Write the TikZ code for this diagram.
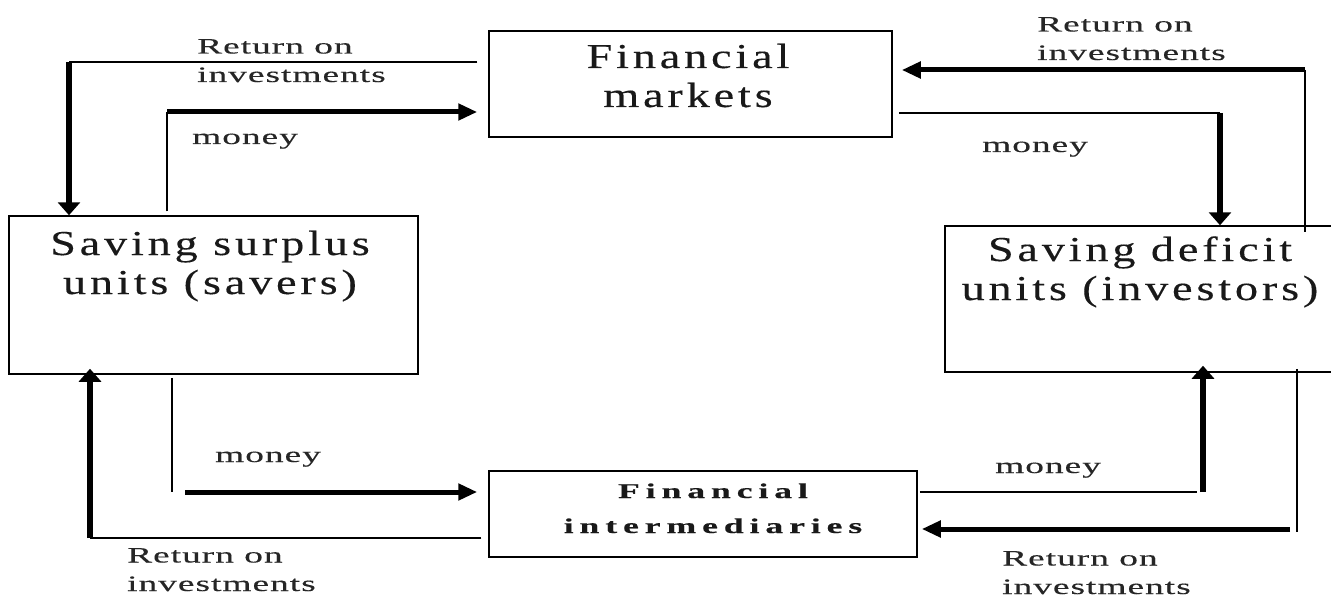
\documentclass[tikz,border=0pt]{standalone}
\usepackage{fontspec}
\setmainfont{Liberation Serif}
\newfontfamily\boxfont{Liberation Serif}[FakeStretch=1.32,LetterSpace=11,FakeBold=0.3]
\newfontfamily\labfont{Liberation Serif}[FakeStretch=1.7,LetterSpace=4.5,FakeBold=0.3]
\newfontfamily\fifont{Liberation Serif}[FakeStretch=1.7,LetterSpace=28,FakeBold=0.4]
\usetikzlibrary{arrows.meta}
\begin{document}
\begin{tikzpicture}[x=1pt,y=-1pt,
  box/.style={draw, line width=1.5pt, inner sep=0pt},
  boxtext/.style={font=\boxfont\fontsize{35}{39}\selectfont, align=center, inner sep=0pt, anchor=base, text=black!90},
  fitext/.style={font=\fifont\bfseries\fontsize{21}{35}\selectfont, align=center, inner sep=0pt, anchor=base, text=black!90},
  lab/.style={font=\labfont\fontsize{22}{28.5}\selectfont, align=left, inner sep=0pt, anchor=base west, text=black!85},
  thinl/.style={line width=1.5pt},
  harrow/.style={line width=5pt, -{Triangle[length=19pt,width=16pt]}},
  varrow/.style={line width=6pt, -{Triangle[length=13pt,width=22pt]}}
]
\clip (0,0) rectangle (1331,599);
\fill[white] (0,0) rectangle (1331,599);

% boxes
\node[box, minimum width=403pt, minimum height=106pt] (fm)  at (690.5,84) {};
\node[box, minimum width=409pt, minimum height=158pt] (ssu) at (213.5,295) {};
\node[box, minimum width=400pt, minimum height=146pt] (sdu) at (1145,299) {};
\node[box, minimum width=428pt, minimum height=86pt]  (fi)  at (703,514) {};

% box texts (anchored at the baseline of the last line)
\node[boxtext] (fmt)  at (688,107)  {Financial\\markets};
\node[boxtext] (ssut) at (210,294) {Saving surplus\\units (savers)};
\node[boxtext] (sdut) at (1140,300) {Saving deficit\\units (investors)};
\node[fitext]  (fit)  at (713,533) {Financial\\intermediaries};

% bend points
\coordinate (a1) at (69,62);
\coordinate (a2) at (167,112);
\coordinate (a3) at (1305,70);
\coordinate (a4) at (1220,113);
\coordinate (a5) at (1203,492);
\coordinate (a6) at (1297,529);
\coordinate (a7) at (172,492);
\coordinate (a8) at (90,538);

% top-left: return on investments
\draw[thinl, shorten <=11pt] (fm.west |- a1) -- (a1);
\draw[varrow] (a1) -- (a1 |- ssu.north);
% top-left: money
\draw[thinl, shorten <=4pt] (a2 |- ssu.north) -- (a2);
\draw[harrow, shorten >=11pt] (a2) -- (a2 -| fm.west);
% top-right: return on investments
\draw[harrow, shorten >=9pt] (a3) -- (a3 -| fm.east);
\draw[thinl, shorten >=-7pt] (a3) -- (a3 |- sdu.north);
% top-right: money
\draw[thinl, shorten <=6pt] (fm.east |- a4) -- (a4);
\draw[varrow] (a4) -- (a4 |- sdu.north);
% bottom-right: money
\draw[thinl, shorten <=2pt, shorten >=6pt] (fi.east |- a5) -- (a5);
\draw[varrow, shorten >=-7pt] (a5) -- (a5 |- sdu.south);
% bottom-right: return on investments
\draw[thinl, shorten <=-4pt, shorten >=-3pt] (a6 |- sdu.south) -- (a6);
\draw[harrow, shorten <=7pt, shorten >=4pt] (a6) -- (a6 -| fi.east);
% bottom-left: money
\draw[thinl, shorten <=3pt] (a7 |- ssu.south) -- (a7);
\draw[harrow, shorten <=13pt, shorten >=11pt] (a7) -- (a7 -| fi.west);
% bottom-left: return on investments
\draw[thinl, shorten <=7pt] (fi.west |- a8) -- (a8);
\draw[varrow, shorten >=-6pt] (a8) -- (a8 |- ssu.south);

% labels (anchored at the baseline of the last line)
\node[lab] (l1) at (197,82)  {Return on\\investments};
\node[lab] (l2) at (192,144) {money};
\node[lab] (l3) at (1037,60) {Return on\\investments};
\node[lab] (l4) at (982,152) {money};
\node[lab] (l5) at (215,462) {money};
\node[lab] (l6) at (995,473) {money};
\node[lab] (l7) at (1002,594) {Return on\\investments};
\node[lab] (l8) at (127,591) {Return on\\investments};
\end{tikzpicture}
\end{document}
